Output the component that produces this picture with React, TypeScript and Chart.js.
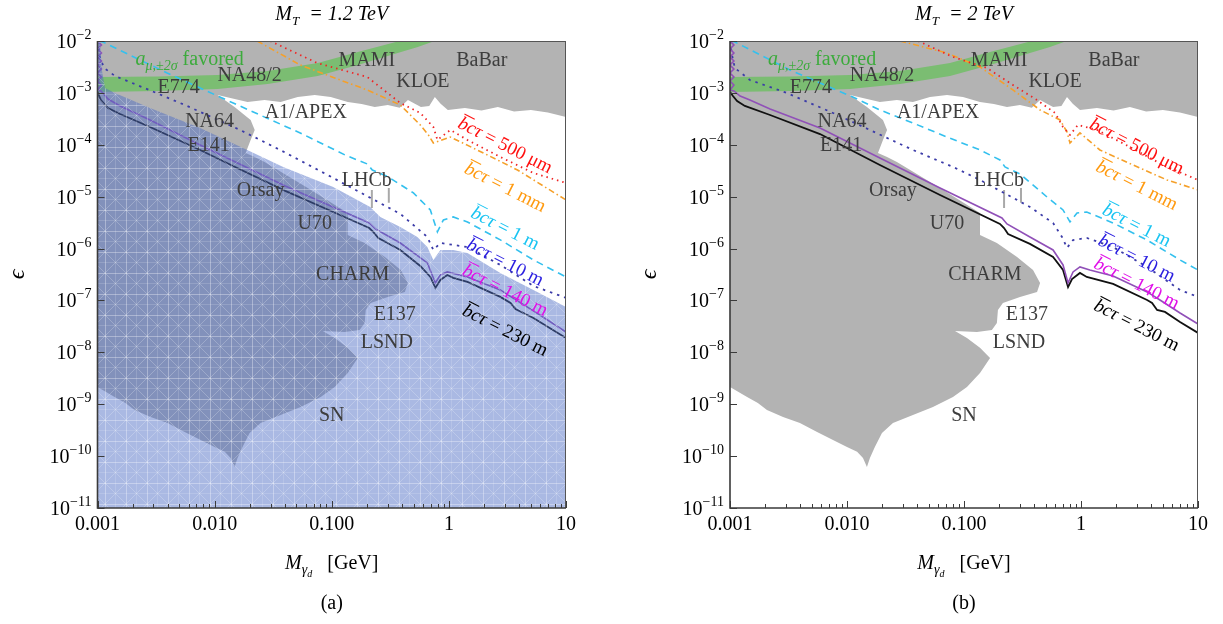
import React, { useEffect, useRef } from "react";
import { Chart, registerables } from "chart.js";

Chart.register(...registerables);

type P = [number, number];

const SERIF = "'Liberation Serif', 'Times New Roman', serif";

// ---------- axes ----------
const xTickValues = [0.001, 0.01, 0.1, 1, 10];
const xTickLabels = ["0.001", "0.010", "0.100", "1", "10"];
const xMinorFactors = [2, 3, 4, 5, 6, 7, 8, 9];
const yTickValues = [1e-11, 1e-10, 1e-9, 1e-8, 1e-7, 1e-6, 1e-5, 1e-4, 1e-3, 1e-2];
const yTickBase = "10";
const yTickExponents = ["−11", "−10", "−9", "−8", "−7", "−6", "−5", "−4", "−3", "−2"];

// ---------- excluded region (grey), same in both panels ----------
const excludedRegion: P[] = [
  [0.001, 1e-2], [10, 1e-2], [10, 3.44e-4], [7.0, 4.2e-4], [5.02, 4.69e-4], [3.6, 4.4e-4], [2.62, 5.35e-4],
  [1.9, 4.6e-4], [1.37, 5.12e-4], [0.98, 4.69e-4], [0.85, 6.2e-4], [0.759, 8.34e-4], [0.68, 5.6e-4],
  [0.577, 5.35e-4], [0.447, 7.29e-4], [0.38, 5.2e-4], [0.301, 5.85e-4], [0.233, 5.35e-4], [0.18, 6.1e-4],
  [0.137, 6.68e-4], [0.098, 8.34e-4], [0.0716, 9.12e-4], [0.0512, 8.34e-4], [0.0366, 6.68e-4],
  [0.0267, 7.29e-4], [0.0191, 6.68e-4], [0.0106, 9.12e-4], [0.0148, 5.35e-4], [0.0203, 3.01e-4],
  [0.022, 1.93e-4], [0.0203, 1.24e-4], [0.0184, 6.95e-5], [0.022, 5.82e-5], [0.0267, 4.67e-5],
  [0.0624, 1.47e-5], [0.137, 4.85e-6], [0.137, 1.83e-6], [0.191, 1.28e-6], [0.284, 6.89e-7],
  [0.389, 3.87e-7], [0.447, 2.17e-7], [0.421, 1.46e-7], [0.301, 1.17e-7], [0.215, 8.95e-8],
  [0.195, 6.56e-8], [0.191, 3.68e-8], [0.173, 2.7e-8], [0.129, 2.47e-8], [0.0838, 2.58e-8],
  [0.106, 1.89e-8], [0.137, 1.22e-8], [0.167, 7.8e-9], [0.137, 4.01e-9], [0.106, 2.15e-9],
  [0.0805, 1.38e-9], [0.0543, 8.87e-10], [0.0366, 6.22e-10], [0.0247, 4.37e-10], [0.0199, 2.8e-10],
  [0.0173, 1.5e-10], [0.0157, 9.23e-11], [0.0148, 6.19e-11], [0.0137, 9.23e-11], [0.0122, 1.21e-10],
  [0.01, 1.5e-10], [0.00759, 2.05e-10], [0.00555, 2.92e-10], [0.00396, 4.37e-10], [0.00284, 5.69e-10],
  [0.00207, 7.76e-10], [0.00173, 1.06e-9], [0.0014, 1.38e-9], [0.001, 2.15e-9],
];
const lhcbSpikeA: P[] = [[0.22, 1.35e-5], [0.22, 6.05e-6]];
const lhcbSpikeB: P[] = [[0.307, 1.47e-5], [0.307, 7.6e-6]];

// ---------- g-2 favoured band ----------
const bandX = [0.001, 0.00326, 0.0106, 0.0284, 0.0759, 0.167, 0.366, 0.543, 0.889];
const bandUpper = [2.02e-3, 2.07e-3, 2.21e-3, 2.64e-3, 3.77e-3, 6.14e-3, 9.78e-3, 1.31e-2, 1.63e-2];
const bandLower = [1.04e-3, 1.09e-3, 1.19e-3, 1.48e-3, 2.12e-3, 3.45e-3, 5.88e-3, 7.66e-3, 1.14e-2];

// ---------- shaded region, panel (a) ----------
const blueRegion: P[] = [
  [0.001, 1e-2], [0.00105, 1e-2], [0.00109, 2.76e-3], [0.00116, 1.24e-3], [0.00141, 9.95e-4],
  [0.00281, 5.12e-4], [0.00752, 2.11e-4], [0.019, 7.94e-5], [0.0385, 3.74e-5], [0.103, 1.54e-5],
  [0.213, 6.33e-6], [0.26, 4.07e-6], [0.385, 2.61e-6], [0.538, 1.67e-6], [0.655, 1.07e-6],
  [0.737, 6.03e-7], [0.846, 9.39e-7], [1.09, 9.39e-7], [1.44, 8.22e-7], [2.75, 3.39e-7],
  [5.27, 1.59e-7], [10, 7.5e-8], [10, 1e-11], [0.001, 1e-11],
];

// ---------- decay-length contours ----------
const purpleZigzag: P[] = [
  [0.001, 1e-2], [0.00108, 8.37e-3], [0.001, 7.01e-3], [0.00108, 5.87e-3], [0.001, 4.92e-3],
  [0.00108, 4.12e-3], [0.001, 3.45e-3], [0.00108, 2.89e-3], [0.001, 2.42e-3], [0.00108, 2.02e-3],
  [0.001, 1.69e-3], [0.00108, 1.42e-3], [0.001, 1.14e-3],
];

// panel (a): M_T = 1.2 TeV
const leftBlack230: P[] = [
  [0.001, 1.04e-3], [0.00107, 7.29e-4], [0.00123, 5.12e-4], [0.00156, 3.92e-4], [0.00281, 2.2e-4],
  [0.00752, 7.94e-5], [0.0156, 3.57e-5], [0.0401, 1.29e-5], [0.103, 5.07e-6], [0.209, 2.49e-6],
  [0.226, 2.09e-6], [0.25, 1.6e-6], [0.385, 9.39e-7], [0.57, 4.62e-7], [0.695, 2.84e-7],
  [0.767, 1.74e-7], [0.846, 2.48e-7], [0.97, 3.1e-7], [1.09, 2.72e-7], [1.44, 2.27e-7],
  [2.75, 1.17e-7], [3.36, 8.95e-8], [3.7, 6.86e-8], [5.27, 4.6e-8], [10, 1.89e-8],
];
const leftPurple140: P[] = [
  ...purpleZigzag,
  [0.00107, 1.09e-3], [0.00123, 7.62e-4], [0.00156, 5.6e-4], [0.00281, 3.01e-4], [0.00752, 9.91e-5],
  [0.0401, 1.61e-5], [0.209, 3.11e-6], [0.236, 2.39e-6], [0.385, 1.28e-6], [0.655, 5.28e-7],
  [0.767, 2.17e-7], [0.846, 3.1e-7], [0.97, 3.54e-7], [1.44, 2.84e-7], [2.75, 1.59e-7],
  [5.27, 6.28e-8], [10, 2.47e-8],
];
const leftBlue10: P[] = [
  [0.001, 1e-2], [0.00105, 4.7e-3], [0.00114, 3.02e-3], [0.00141, 2.12e-3], [0.00304, 1.04e-3],
  [0.00582, 5.6e-4], [0.0165, 1.93e-4], [0.0363, 7.94e-5], [0.103, 2.29e-5], [0.385, 4.65e-6],
  [0.655, 1.67e-6], [0.737, 9.39e-7], [0.846, 1.28e-6], [1.44, 1.07e-6], [2.75, 4.83e-7],
  [5.27, 1.9e-7], [10, 1.12e-7],
];
const leftCyan1: P[] = [
  [0.00103, 1e-2], [0.00111, 9.57e-3], [0.00393, 2.42e-3], [0.0144, 6.38e-4], [0.0538, 1.69e-4],
  [0.13, 6.35e-5], [0.201, 4.27e-5], [0.222, 3.27e-5], [0.304, 2.4e-5], [0.498, 1.18e-5],
  [0.695, 5.55e-6], [0.798, 2.09e-6], [0.898, 3.56e-6], [1.09, 4.07e-6], [1.44, 3.26e-6],
  [2.75, 1.47e-6], [5.27, 6.03e-7], [10, 2.84e-7],
];
const leftOrange1mm: P[] = [
  [0.0231, 1e-2], [0.0538, 3.45e-3], [0.118, 1.77e-3], [0.201, 1.14e-3], [0.385, 5.85e-4],
  [0.57, 2.41e-4], [0.668, 1.55e-4], [0.737, 1.08e-4], [1.03, 1.41e-4], [1.97, 6.95e-5],
  [3.85, 3.27e-5], [10, 8.63e-6],
];
const leftRed500um: P[] = [
  [0.0298, 1e-2], [0.0751, 3.77e-3], [0.201, 2.02e-3], [0.385, 6.38e-4], [0.57, 4.1e-4],
  [0.737, 2.2e-4], [0.798, 1.24e-4], [1.03, 1.93e-4], [1.44, 1.24e-4], [2.75, 5.82e-5],
  [5.27, 2.86e-5], [10, 1.84e-5],
];

// panel (b): M_T = 2 TeV
const rightBlack230: P[] = [
  [0.001, 1.04e-3], [0.00106, 8.71e-4], [0.00115, 6.98e-4], [0.00134, 5.6e-4], [0.0022, 3.75e-4],
  [0.00588, 1.61e-4], [0.0191, 4.08e-5], [0.0624, 1.08e-5], [0.203, 2.98e-6], [0.22, 2.49e-6],
  [0.238, 1.91e-6], [0.366, 1.23e-6], [0.577, 6.89e-7], [0.702, 3.87e-7], [0.775, 1.82e-7],
  [0.838, 2.59e-7], [0.98, 3.39e-7], [1.12, 2.84e-7], [1.88, 2.08e-7], [3.67, 1.02e-7],
  [4.05, 8.95e-8], [4.47, 6.56e-8], [5.22, 6.0e-8], [7.02, 3.85e-8], [10, 2.37e-8],
];
const rightPurple140: P[] = [
  ...purpleZigzag,
  [0.00108, 1.09e-3], [0.00122, 8.71e-4], [0.00148, 7.29e-4], [0.0022, 4.9e-4], [0.00588, 2.11e-4],
  [0.0191, 5.57e-5], [0.0624, 1.47e-5], [0.211, 3.89e-6], [0.233, 2.98e-6], [0.366, 1.67e-6],
  [0.577, 9.39e-7], [0.702, 4.83e-7], [0.775, 2.17e-7], [0.855, 3.54e-7], [0.98, 4.42e-7],
  [1.19, 3.87e-7], [1.88, 2.96e-7], [3.67, 1.46e-7], [4.73, 1.02e-7], [7.02, 5.74e-8], [10, 3.52e-8],
];
const rightBlue10: P[] = [
  [0.001, 1e-2], [0.00104, 5.37e-3], [0.0011, 3.02e-3], [0.00148, 1.77e-3], [0.00307, 9.95e-4],
  [0.00759, 4.1e-4], [0.0157, 1.93e-4], [0.0366, 7.94e-5], [0.0805, 3.74e-5], [0.137, 2.1e-5],
  [0.366, 6.33e-6], [0.577, 3.11e-6], [0.688, 1.67e-6], [0.759, 1.03e-6], [0.855, 1.46e-6],
  [1.12, 1.6e-6], [1.88, 1.07e-6], [3.67, 4.42e-7], [7.02, 1.59e-7], [10, 1.17e-7],
];
const rightCyan1: P[] = [
  [0.00102, 1e-2], [0.0011, 9.57e-3], [0.00326, 2.76e-3], [0.0112, 8.34e-4], [0.0191, 4.69e-4],
  [0.0366, 2.63e-4], [0.0716, 1.41e-4], [0.137, 7.94e-5], [0.203, 5.09e-5], [0.224, 3.74e-5],
  [0.301, 2.74e-5], [0.512, 9.86e-6], [0.702, 5.55e-6], [0.805, 3.26e-6], [0.925, 4.85e-6],
  [1.12, 5.07e-6], [1.88, 3.11e-6], [3.67, 1.46e-6], [7.02, 6.03e-7], [10, 3.87e-7],
];
const rightOrange1mm: P[] = [
  [0.0284, 1e-2], [0.0716, 5.87e-3], [0.137, 3.16e-3], [0.262, 1.14e-3], [0.447, 4.69e-4],
  [0.662, 3.01e-4], [0.759, 1.77e-4], [0.805, 1.08e-4], [0.98, 1.69e-4], [1.45, 7.94e-5],
  [2.78, 4.08e-5], [5.43, 2.1e-5], [10, 1.35e-5],
];
const rightRed500um: P[] = [
  [0.0405, 1e-2], [0.0805, 4.92e-3], [0.157, 3.02e-3], [0.262, 1.42e-3], [0.421, 7.29e-4],
  [0.6, 4.1e-4], [0.702, 2.2e-4], [0.805, 1.55e-4], [0.942, 2.41e-4], [1.37, 1.93e-4],
  [2.62, 9.08e-5], [5.02, 4.08e-5], [10, 2.1e-5],
];

// ---------- labels ----------
const regionLabelTexts = ["NA48/2", "E774", "MAMI", "KLOE", "BaBar", "A1/APEX", "NA64", "E141", "Orsay", "LHCb", "U70", "CHARM", "E137", "LSND", "SN"];
const regionLabelX = [0.0199, 0.00492, 0.199, 0.6, 1.91, 0.06, 0.00906, 0.00889, 0.0247, 0.199, 0.0716, 0.151, 0.345, 0.295, 0.1];
const regionLabelY = [2.12e-3, 1.24e-3, 4.12e-3, 1.62e-3, 4.12e-3, 4.1e-4, 2.75e-4, 9.48e-5, 1.29e-5, 2.01e-5, 2.98e-6, 3.1e-7, 5.26e-8, 1.52e-8, 5.96e-10];
const favouredAnchor: P = [0.00211, 3.4e-3];

const bctValues = ["500 μm", "1 mm", "1 m", "10 m", "140 m", "230 m"];
const bctColors = ["#ff1010", "#ff9a10", "#18c4f2", "#2a1ee0", "#e010e8", "#000000"];
const leftBctX = [3.04, 3.04, 3.04, 3.04, 3.04, 3.04];
const leftBctY = [9.91e-5, 1.54e-5, 2.49e-6, 5.52e-7, 1.59e-7, 2.7e-8];
const rightBctX = [3.01, 3.01, 3.01, 3.01, 3.01, 3.01];
const rightBctY = [9.48e-5, 1.68e-5, 2.85e-6, 6.59e-7, 2.17e-7, 3.37e-8];

interface Panel {
  mass: string;
  caption: string;
  yWidth: number;
  padRight: number;
  black: P[]; purple: P[]; blue10: P[]; cyan: P[]; orange: P[]; red: P[];
  shaded: P[] | null;
  bctX: number[]; bctY: number[];
}

const leftPanel: Panel = {
  mass: "1.2", caption: "(a)", yWidth: 97.5, padRight: 45,
  black: leftBlack230, purple: leftPurple140, blue10: leftBlue10, cyan: leftCyan1, orange: leftOrange1mm, red: leftRed500um,
  shaded: blueRegion, bctX: leftBctX, bctY: leftBctY,
};
const rightPanel: Panel = {
  mass: "2", caption: "(b)", yWidth: 119, padRight: 25,
  black: rightBlack230, purple: rightPurple140, blue10: rightBlue10, cyan: rightCyan1, orange: rightOrange1mm, red: rightRed500um,
  shaded: null, bctX: rightBctX, bctY: rightBctY,
};

type Run = { text: string; font: string; dy?: number };
function runsWidth(ctx: CanvasRenderingContext2D, runs: Run[]) {
  let total = 0;
  for (const r of runs) { ctx.font = r.font; total += ctx.measureText(r.text).width; }
  return total;
}
function drawRuns(ctx: CanvasRenderingContext2D, runs: Run[], x: number, y: number, align: "left" | "center" | "right") {
  ctx.textAlign = "left";
  ctx.textBaseline = "alphabetic";
  const total = runsWidth(ctx, runs);
  let cx = align === "center" ? x - total / 2 : align === "right" ? x - total : x;
  for (const r of runs) {
    ctx.font = r.font;
    ctx.fillText(r.text, cx, y + (r.dy || 0));
    cx += ctx.measureText(r.text).width;
  }
}

function drawBct(ctx: CanvasRenderingContext2D, x: number, y: number, value: string, color: string, angle: number) {
  ctx.save();
  ctx.translate(x, y);
  ctx.rotate((angle * Math.PI) / 180);
  ctx.fillStyle = color;
  ctx.strokeStyle = color;
  ctx.textAlign = "left";
  ctx.textBaseline = "alphabetic";
  const fi = `italic 19px ${SERIF}`;
  const fr = `19px ${SERIF}`;
  ctx.font = fi;
  const w1 = ctx.measureText("bcτ").width;
  const wb = ctx.measureText("b").width;
  ctx.font = fr;
  const rest = " = " + value;
  const w2 = ctx.measureText(rest).width;
  const x0 = -(w1 + w2) / 2;
  const base = 6;
  ctx.font = fi;
  ctx.fillText("bcτ", x0, base);
  ctx.font = fr;
  ctx.fillText(rest, x0 + w1, base);
  ctx.lineWidth = 1;
  ctx.beginPath();
  ctx.moveTo(x0 + 1, base - 15);
  ctx.lineTo(x0 + wb + 3, base - 15);
  ctx.stroke();
  ctx.restore();
}

function makeHatch(): CanvasPattern | string {
  const c = document.createElement("canvas");
  c.width = 21; c.height = 21;
  const g = c.getContext("2d");
  const base = "rgba(78,108,196,0.48)";
  if (!g) return base;
  g.fillStyle = base;
  g.fillRect(0, 0, 21, 21);
  g.lineWidth = 1;
  g.strokeStyle = "rgba(255,255,255,0.33)";
  g.beginPath(); g.moveTo(0.5, 0); g.lineTo(0.5, 21); g.moveTo(0, 0.5); g.lineTo(21, 0.5); g.stroke();
  g.strokeStyle = "rgba(255,255,255,0.22)";
  g.beginPath(); g.moveTo(0, 0); g.lineTo(21, 21); g.moveTo(21, 0); g.lineTo(0, 21); g.stroke();
  g.strokeStyle = "rgba(255,255,255,0.14)";
  g.beginPath(); g.moveTo(10.5, 0); g.lineTo(10.5, 21); g.moveTo(0, 10.5); g.lineTo(21, 10.5); g.stroke();
  return g.createPattern(c, "repeat") || base;
}

const pts = (d: P[]) => d.map(([x, y]) => ({ x, y }));

function makeDecor(panel: Panel) {
  return {
    id: "decor" + panel.mass.replace(".", ""),
    afterDatasetsDraw(chart: any) {
      const ctx: CanvasRenderingContext2D = chart.ctx;
      const xs = chart.scales.x, ys = chart.scales.y;
      const px = (v: number) => xs.getPixelForValue(v);
      const py = (v: number) => ys.getPixelForValue(v);
      ctx.save();
      ctx.fillStyle = "#3d3d3d";
      ctx.font = `20px ${SERIF}`;
      ctx.textAlign = "center";
      ctx.textBaseline = "middle";
      regionLabelTexts.forEach((t, i) => ctx.fillText(t, px(regionLabelX[i]), py(regionLabelY[i])));
      ctx.fillStyle = "#3cab3c";
      drawRuns(ctx, [
        { text: "a", font: `italic 20px ${SERIF}` },
        { text: "μ,±2σ", font: `italic 14px ${SERIF}`, dy: 5 },
        { text: " favored", font: `20px ${SERIF}` },
      ], px(favouredAnchor[0]), py(favouredAnchor[1]), "left");
      bctValues.forEach((v, i) => drawBct(ctx, px(panel.bctX[i]), py(panel.bctY[i]), v, bctColors[i], 27));
      ctx.restore();
    },
    afterDraw(chart: any) {
      const ctx: CanvasRenderingContext2D = chart.ctx;
      const xs = chart.scales.x, ys = chart.scales.y;
      const { left, right, top, bottom } = chart.chartArea;
      ctx.save();
      // frame
      ctx.strokeStyle = "#555";
      ctx.lineWidth = 1;
      ctx.beginPath();
      ctx.moveTo(left, top + 0.5); ctx.lineTo(right, top + 0.5);
      ctx.moveTo(right - 0.5, top); ctx.lineTo(right - 0.5, bottom);
      ctx.stroke();
      ctx.strokeStyle = "#3a3a3a";
      ctx.lineWidth = 1.6;
      ctx.beginPath();
      ctx.moveTo(left, top); ctx.lineTo(left, bottom); ctx.lineTo(right, bottom);
      ctx.stroke();
      // inward ticks
      ctx.lineWidth = 1;
      ctx.beginPath();
      for (const v of xTickValues) {
        const x = Math.round(xs.getPixelForValue(v)) + 0.5;
        ctx.moveTo(x, bottom); ctx.lineTo(x, bottom - 7);
      }
      for (const d of xTickValues.slice(0, -1)) {
        for (const m of xMinorFactors) {
          const x = Math.round(xs.getPixelForValue(d * m)) + 0.5;
          ctx.moveTo(x, bottom); ctx.lineTo(x, bottom - 4);
        }
      }
      for (const v of yTickValues) {
        const y = Math.round(ys.getPixelForValue(v)) + 0.5;
        ctx.moveTo(left, y); ctx.lineTo(left + 7, y);
      }
      ctx.stroke();
      ctx.fillStyle = "#000";
      // y tick labels with superscript exponents
      yTickValues.forEach((v, i) => {
        const y = ys.getPixelForValue(v);
        drawRuns(ctx, [
          { text: yTickBase, font: `20px ${SERIF}` },
          { text: yTickExponents[i], font: `14px ${SERIF}`, dy: -9 },
        ], left - 6, y + 7, "right");
      });
      const cx = (left + right) / 2;
      // title
      drawRuns(ctx, [
        { text: "M", font: `italic 20px ${SERIF}` },
        { text: "T", font: `italic 13px ${SERIF}`, dy: 5 },
        { text: "  = " + panel.mass + " TeV", font: `italic 20px ${SERIF}` },
      ], cx, 20, "center");
      // x title
      drawRuns(ctx, [
        { text: "M", font: `italic 20px ${SERIF}` },
        { text: "γ", font: `italic 14px ${SERIF}`, dy: 5 },
        { text: "d", font: `italic 10px ${SERIF}`, dy: 8 },
        { text: "   [GeV]", font: `20px ${SERIF}` },
      ], cx, 569, "center");
      // caption
      drawRuns(ctx, [{ text: panel.caption, font: `20px ${SERIF}` }], cx, 609, "center");
      // y title
      ctx.save();
      ctx.translate(left - 80, (top + bottom) / 2);
      ctx.rotate(-Math.PI / 2);
      ctx.font = `italic 24px ${SERIF}`;
      ctx.textAlign = "center";
      ctx.textBaseline = "middle";
      ctx.fillText("ϵ", 0, 0);
      ctx.restore();
      ctx.restore();
    },
  };
}

function buildConfig(panel: Panel, hatch: CanvasPattern | string): any {
  const hidden = "rgba(0,0,0,0)";
  const bandPolygon: P[] = [
    ...bandX.map((x, i) => [x, bandUpper[i]] as P),
    ...bandX.map((x, i) => [x, bandLower[i]] as P).reverse(),
  ];
  const datasets: any[] = [
    { label: "excluded", data: pts(excludedRegion), fill: "shape", backgroundColor: "#b3b3b3", borderColor: hidden, borderWidth: 0, order: 10 },
    { label: "LHCb a", data: pts(lhcbSpikeA), fill: false, borderColor: "#a9a9a9", borderWidth: 2, order: 9 },
    { label: "LHCb b", data: pts(lhcbSpikeB), fill: false, borderColor: "#a9a9a9", borderWidth: 2, order: 9 },
    { label: "g-2", data: pts(bandPolygon), fill: "shape", backgroundColor: "#7bbd72", borderColor: hidden, borderWidth: 0, order: 8 },
    { label: "500 um", data: pts(panel.red), fill: false, borderColor: "#f02424", borderWidth: 1.8, borderDash: [1.5, 4], order: 5 },
    { label: "1 mm", data: pts(panel.orange), fill: false, borderColor: "#f5a02a", borderWidth: 1.6, borderDash: [6, 3, 1.5, 3], order: 5 },
    { label: "1 m", data: pts(panel.cyan), fill: false, borderColor: "#34c0ee", borderWidth: 1.6, borderDash: [7, 5], order: 5 },
    { label: "10 m", data: pts(panel.blue10), fill: false, borderColor: "#3c3ca8", borderWidth: 1.8, borderDash: [2.5, 5], order: 5 },
    { label: "140 m", data: pts(panel.purple), fill: false, borderColor: "#9050b8", borderWidth: 1.6, order: 4 },
    { label: "230 m", data: pts(panel.black), fill: false, borderColor: "#111111", borderWidth: 1.8, order: 4 },
  ];
  if (panel.shaded) {
    datasets.push({ label: "shaded", data: pts(panel.shaded), fill: "shape", backgroundColor: hatch, borderColor: hidden, borderWidth: 0, order: 1 });
  }
  return {
    type: "line",
    data: { datasets },
    options: {
      animation: false,
      responsive: false,
      devicePixelRatio: 1,
      events: [],
      layout: { padding: { left: 0, right: panel.padRight, top: 41, bottom: 0 } },
      elements: { point: { radius: 0 }, line: { tension: 0 } },
      plugins: { legend: { display: false }, tooltip: { enabled: false }, title: { display: false } },
      scales: {
        x: {
          type: "logarithmic",
          min: 0.001,
          max: 10,
          afterFit: (s: any) => { s.height = 116; },
          afterBuildTicks: (s: any) => { s.ticks = xTickValues.map((v) => ({ value: v })); },
          grid: { display: false, drawTicks: false },
          border: { display: false },
          ticks: {
            autoSkip: false, maxRotation: 0, minRotation: 0, padding: 5, color: "#000",
            font: { family: SERIF, size: 20 },
            callback: (_v: any, i: number) => xTickLabels[i],
          },
        },
        y: {
          type: "logarithmic",
          min: 1e-11,
          max: 1e-2,
          afterFit: (s: any) => { s.width = panel.yWidth; },
          afterBuildTicks: (s: any) => { s.ticks = yTickValues.map((v) => ({ value: v })); },
          grid: { display: false, drawTicks: false },
          border: { display: false },
          ticks: { display: false },
        },
      },
    },
    plugins: [makeDecor(panel)],
  };
}

export default function App() {
  const leftRef = useRef<HTMLCanvasElement>(null);
  const rightRef = useRef<HTMLCanvasElement>(null);
  useEffect(() => {
    const hatch = makeHatch();
    const c1 = new Chart(leftRef.current as HTMLCanvasElement, buildConfig(leftPanel, hatch));
    const c2 = new Chart(rightRef.current as HTMLCanvasElement, buildConfig(rightPanel, hatch));
    return () => { c1.destroy(); c2.destroy(); };
  }, []);
  return (
    <div style={{ position: "fixed", left: 0, top: 0, width: 1223, height: 624, background: "#ffffff" }}>
      <canvas ref={leftRef} width={611} height={624} style={{ position: "absolute", left: 0, top: 0 }} />
      <canvas ref={rightRef} width={612} height={624} style={{ position: "absolute", left: 611, top: 0 }} />
    </div>
  );
}
